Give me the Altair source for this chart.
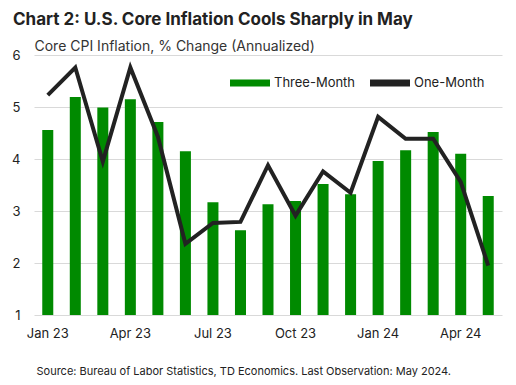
import altair as alt
import pandas as pd

months = ["Jan 23", "Feb 23", "Mar 23", "Apr 23", "May 23", "Jun 23", "Jul 23", "Aug 23",
          "Sep 23", "Oct 23", "Nov 23", "Dec 23", "Jan 24", "Feb 24", "Mar 24", "Apr 24", "May 24"]
three_month = [4.56, 5.19, 4.99, 5.15, 4.71, 4.15, 3.17, 2.63,
               3.13, 3.19, 3.52, 3.32, 3.96, 4.17, 4.52, 4.10, 3.29]
one_month = [5.23, 5.76, 3.95, 5.76, 4.43, 2.37, 2.77, 2.79,
             3.88, 2.91, 3.76, 3.35, 4.81, 4.39, 4.39, 3.56, 1.95]
tick_labels = ["Jan 23", "Apr 23", "Jul 23", "Oct 23", "Jan 24", "Apr 24"]
series_names = ["Three-Month", "One-Month"]
series_colors = ["#008A00", "#222222"]

df_bar = pd.DataFrame({"month": months, "value": three_month, "series": series_names[0]})
df_line = pd.DataFrame({"month": months, "value": one_month, "series": series_names[1]})

FONT = "Inter"

color = alt.Color(
    "series:N",
    scale=alt.Scale(domain=series_names, range=series_colors),
    legend=alt.Legend(
        title=None, orient="none", legendX=196, legendY=8, direction="horizontal",
        symbolType="M-1,-0.17H1V0.17H-1Z", symbolSize=1600, symbolStrokeWidth=0,
        labelFont=FONT, labelFontSize=13, labelColor="#222222", labelOffset=4,
        columnPadding=14,
    ),
)

x = alt.X(
    "month:N", sort=months,
    scale=alt.Scale(paddingInner=0.6),
    axis=alt.Axis(
        values=tick_labels, labelAngle=0, ticks=False, domain=False, grid=False,
        labelFont=FONT, labelFontSize=13, labelColor="#222222", labelPadding=12,
        title="Source: Bureau of Labor Statistics, TD Economics. Last Observation: May 2024.",
        titleFont=FONT, titleFontSize=11, titleFontWeight="normal", titleColor="#222222",
        titleAnchor="start", titleAlign="left", titleX=2, titleY=59, titleBaseline="alphabetic",
    ),
)
y = alt.Y(
    "value:Q",
    scale=alt.Scale(domain=[1, 6], nice=False),
    axis=alt.Axis(
        values=[1, 2, 3, 4, 5, 6], ticks=False, domain=False, gridColor="#d9d9d9",
        labelFont=FONT, labelFontSize=13, labelColor="#222222", labelPadding=14,
        title="Core CPI Inflation, % Change (Annualized)",
        titleFont=FONT, titleFontSize=14, titleFontWeight="normal", titleColor="#333333",
        titleAngle=0, titleAlign="left", titleX=0, titleY=-5, titleBaseline="alphabetic",
    ),
)

bars = alt.Chart(df_bar).mark_bar(clip=True).encode(x=x, y=y, y2=alt.Y2(datum=1), color=color)
line = alt.Chart(df_line).mark_line(strokeWidth=4, strokeJoin="miter").encode(x=x, y=y, color=color)

chart = alt.layer(bars, line).properties(
    width=468, height=260,
    autosize=alt.AutoSizeParams(type="none"),
    padding={"left": 26, "top": 47, "right": 6, "bottom": 62},
    title=alt.TitleParams(
        "Chart 2: U.S. Core Inflation Cools Sharply in May",
        anchor="start", frame="group", dx=-21, offset=10,
        font=FONT, fontSize=17, fontWeight="bold", color="#222222",
    ),
).configure_view(stroke=None).configure_axis(labelFont=FONT)

chart.save("out.html", embed_options={"renderer": "svg", "actions": False})
